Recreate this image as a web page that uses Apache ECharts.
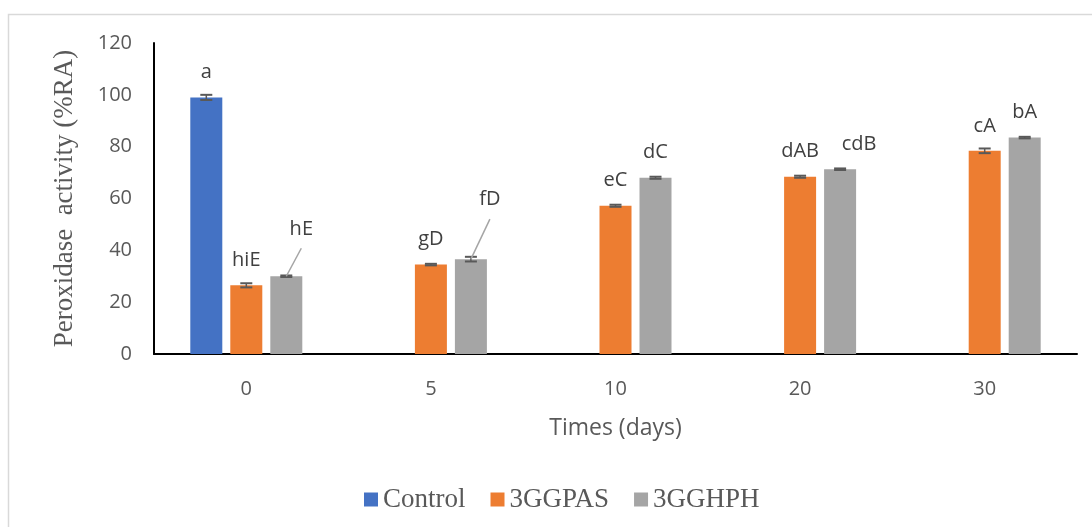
<!DOCTYPE html>
<html>
<head>
<meta charset="utf-8">
<script src="https://cdn.jsdelivr.net/npm/echarts@6/dist/echarts.min.js"></script>
<style>html,body{margin:0;padding:0;background:#fff;}#c{width:1092px;height:527px;}</style>
</head>
<body>
<div id="c"></div>
<script>
// ---- data ----
var categories = ['0', '5', '10', '20', '30'];
var seriesNames = ['Control', '3GGPAS', '3GGHPH'];
var controlValues = [99, null, null, null, null];
var gpasValues = [26.5, 34.5, 57.2, 68.4, 78.4];
var ghphValues = [30, 36.6, 68, 71.3, 83.5];
var controlErrors = [1, null, null, null, null];
var gpasErrors = [0.8, 0.3, 0.4, 0.4, 0.9];
var ghphErrors = [0.3, 0.9, 0.4, 0.3, 0.3];
var controlLetters = ['a', '', '', '', ''];
var gpasLetters = ['hiE', 'gD', 'eC', 'dAB', 'cA'];
var ghphLetters = ['hE', 'fD', 'dC', 'cdB', 'bA'];
var yTicks = [0, 20, 40, 60, 80, 100, 120];

// ---- styling ----
var colors = ['#4472C4', '#ED7D31', '#A5A5A5'];
var BAR_W = 32, BAR_GAP = 8;
var labelOffsets = { '2-0': [15, -22], '2-1': [19, -35], '2-3': [19, 0] };
var leaderEnds = { '2-0': [15, -28], '2-1': [19, -40] };

var allValues = [controlValues, gpasValues, ghphValues];
var allErrors = [controlErrors, gpasErrors, ghphErrors];
var allLetters = [controlLetters, gpasLetters, ghphLetters];

function barData(s) {
  return allValues[s].map(function (v, i) {
    var item = { value: v };
    var txt = allLetters[s][i];
    var key = s + '-' + i;
    item.label = { show: !!txt && v != null, formatter: txt };
    if (labelOffsets[key]) item.label.offset = labelOffsets[key];
    return item;
  });
}

var errData = [];
for (var s = 0; s < 3; s++) {
  for (var i = 0; i < categories.length; i++) {
    if (allValues[s][i] != null && allErrors[s][i] != null) {
      errData.push([i, allValues[s][i], allErrors[s][i], s]);
    }
  }
}

var barSeries = seriesNames.map(function (n, s) {
  return {
    name: n, type: 'bar', data: barData(s),
    barWidth: BAR_W, barGap: (BAR_GAP / BAR_W * 100) + '%',
    itemStyle: { color: colors[s] },
    label: { position: 'top', distance: 15, color: '#404040', fontFamily: 'Open Sans', fontSize: 20 },
    z: 2
  };
});

var errSeries = {
  type: 'custom', name: 'err', data: errData, z: 5, silent: true,
  renderItem: function (params, api) {
    var cat = api.value(0), v = api.value(1), e = api.value(2), s = api.value(3);
    var off = (s - 1) * (BAR_W + BAR_GAP);
    var top = api.coord([cat, v + e]);
    var bot = api.coord([cat, v - e]);
    var mid = api.coord([cat, v]);
    var x = top[0] + off;
    var cap = 6;
    var children = [
      { type: 'line', shape: { x1: x, y1: top[1], x2: x, y2: bot[1] }, style: { stroke: '#595959', lineWidth: 1.5 } },
      { type: 'line', shape: { x1: x - cap, y1: top[1], x2: x + cap, y2: top[1] }, style: { stroke: '#595959', lineWidth: 2 } },
      { type: 'line', shape: { x1: x - cap, y1: bot[1], x2: x + cap, y2: bot[1] }, style: { stroke: '#595959', lineWidth: 2 } }
    ];
    var key = s + '-' + cat;
    if (leaderEnds[key]) {
      var le = leaderEnds[key];
      children.push({ type: 'line', shape: { x1: x, y1: mid[1], x2: x + le[0], y2: mid[1] + le[1] }, style: { stroke: '#A5A5A5', lineWidth: 1.5 } });
    }
    return { type: 'group', children: children };
  }
};

var chart = echarts.init(document.getElementById('c'));
chart.setOption({
  animation: false,
  backgroundColor: '#fff',
  graphic: [{ type: 'rect', shape: { x: 8.5, y: 14.5, width: 1200, height: 700 }, style: { fill: 'none', stroke: '#d9d9d9', lineWidth: 1.5 }, silent: true }],
  grid: { left: 154, right: 15, top: 43, bottom: 173 },
  legend: {
    data: seriesNames, top: 481, left: 359, itemWidth: 14, itemHeight: 14, itemGap: 25,
    icon: 'rect',
    textStyle: { fontFamily: 'Liberation Serif', fontSize: 27, color: '#595959' }
  },
  xAxis: {
    type: 'category', data: categories,
    axisLine: { lineStyle: { color: '#000', width: 2 } },
    axisTick: { show: false },
    axisLabel: { margin: 25, fontFamily: 'Open Sans', fontSize: 20, color: '#595959' },
    name: 'Times (days)', nameLocation: 'middle', nameGap: 63,
    nameTextStyle: { fontFamily: 'Open Sans', fontSize: 23, color: '#595959' }
  },
  yAxis: {
    type: 'value', min: yTicks[0], max: yTicks[yTicks.length - 1], interval: yTicks[1] - yTicks[0],
    axisLine: { show: true, lineStyle: { color: '#000', width: 2 } },
    axisTick: { show: false },
    splitLine: { show: false },
    axisLabel: { margin: 22, fontFamily: 'Open Sans', fontSize: 20, color: '#595959' },
    name: 'Peroxidase  activity (%RA)', nameLocation: 'middle', nameGap: 76, nameRotate: 90,
    nameTextStyle: { fontFamily: 'Liberation Serif', fontSize: 27, color: '#595959' }
  },
  series: barSeries.concat([errSeries])
});
</script>
</body>
</html>
